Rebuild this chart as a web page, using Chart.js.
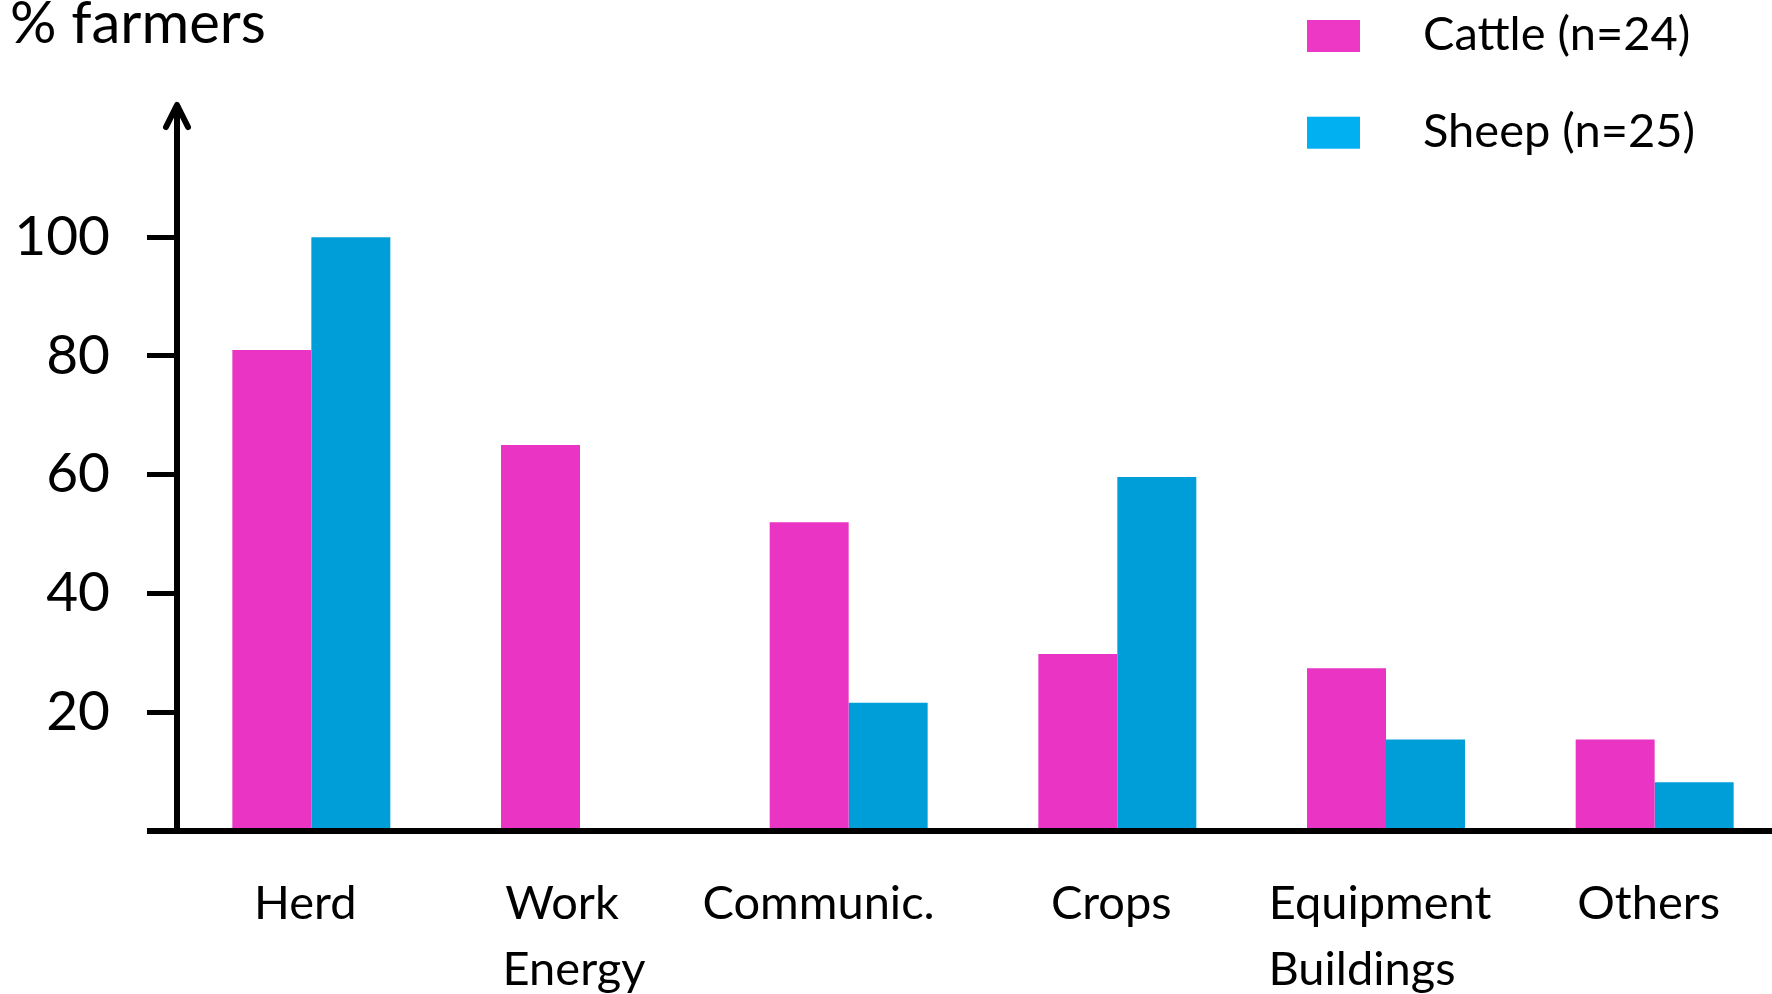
<!DOCTYPE html>
<html>
<head>
<meta charset="utf-8">
<title>% farmers</title>
<script src="https://cdn.jsdelivr.net/npm/chart.js@4.4.1/dist/chart.umd.min.js"></script>
<style>
  html, body { margin: 0; padding: 0; background: #fff; overflow: hidden; }
  #chart { display: block; }
</style>
</head>
<body>
<!-- the plot runs a little past the right edge of the window, as in the original -->
<canvas id="chart" width="1789" height="994"></canvas>
<script>
const categories = ["Herd", ["Work  ", "Energy"], "Communic.    ", "Crops", ["Equipment", "Buildings   "], "Others"];
const cattleValues = [81, 65, 52, 29.8, 27.4, 15.4];
const sheepValues = [100, 0, 21.6, 59.6, 15.4, 8.2];
const seriesLabels = ["Cattle (n=24)", "Sheep (n=25)"];
const yTickValues = [20, 40, 60, 80, 100];
const yTitle = "% farmers";

Chart.defaults.font.family = "Lato, 'Open Sans', sans-serif";
Chart.defaults.color = "#000";

// axis lines, arrow head, y title and legend
const axisDecor = {
  id: "axisDecor",
  afterDatasetsDraw(chart) {
    const { ctx, chartArea, scales } = chart;
    const yBase = scales.y.getPixelForValue(0);
    const ax = chartArea.left;

    ctx.save();
    ctx.strokeStyle = "#000";
    ctx.lineWidth = 6;

    ctx.beginPath();
    ctx.moveTo(ax - 30, yBase);
    ctx.lineTo(chart.width, yBase);
    ctx.stroke();

    ctx.beginPath();
    ctx.moveTo(ax, yBase);
    ctx.lineTo(ax, chartArea.top + 2);
    ctx.stroke();

    ctx.lineCap = "round";
    ctx.lineJoin = "round";
    ctx.beginPath();
    ctx.moveTo(ax - 11, chartArea.top + 24);
    ctx.lineTo(ax, chartArea.top + 2);
    ctx.lineTo(ax + 11, chartArea.top + 24);
    ctx.stroke();
    ctx.restore();
  },
  afterDraw(chart) {
    const { ctx } = chart;
    ctx.save();
    ctx.fillStyle = "#000";
    ctx.textBaseline = "alphabetic";
    ctx.font = "58px Lato";
    ctx.fillText(yTitle, 10, 43);

    ctx.font = "47px Lato";
    chart.data.datasets.forEach((ds, i) => {
      const top = 20 + i * 96.7;
      ctx.fillStyle = ds.legendColor;
      ctx.fillRect(1307, top, 53, 32);
      ctx.fillStyle = "#000";
      ctx.fillText(ds.label, 1423, top + 30);
    });
    ctx.restore();
  }
};

new Chart(document.getElementById("chart"), {
  type: "bar",
  data: {
    labels: categories,
    datasets: [
      {
        label: seriesLabels[0],
        data: cattleValues,
        backgroundColor: "#EA35C4",
        legendColor: "#ED38C6",
        borderWidth: 0,
        categoryPercentage: 0.588,
        barPercentage: 1
      },
      {
        label: seriesLabels[1],
        data: sheepValues,
        backgroundColor: "#009ED8",
        legendColor: "#00B0F0",
        borderWidth: 0,
        categoryPercentage: 0.588,
        barPercentage: 1
      }
    ]
  },
  options: {
    responsive: false,
    devicePixelRatio: 1,
    animation: false,
    layout: { padding: { top: 103, right: 0, left: 0, bottom: 0 } },
    plugins: {
      legend: { display: false },
      tooltip: { enabled: false }
    },
    scales: {
      x: {
        grid: { display: false, drawTicks: false },
        border: { display: false },
        ticks: {
          font: { size: 47, lineHeight: 1.42 },
          padding: 39,
          labelOffset: -6,
          maxRotation: 0,
          autoSkip: false
        },
        afterFit(scale) { scale.height = 994 - 831; }
      },
      y: {
        min: 0,
        max: 122.6,
        grid: {
          drawOnChartArea: false,
          drawTicks: true,
          tickLength: 30,
          tickWidth: 5,
          tickColor: "#000"
        },
        border: { display: false },
        afterBuildTicks(axis) {
          axis.ticks = yTickValues.map(v => ({ value: v }));
        },
        ticks: { font: { size: 55 }, padding: 37 },
        afterFit(scale) { scale.width = 177; }
      }
    }
  },
  plugins: [axisDecor]
});
</script>
</body>
</html>
